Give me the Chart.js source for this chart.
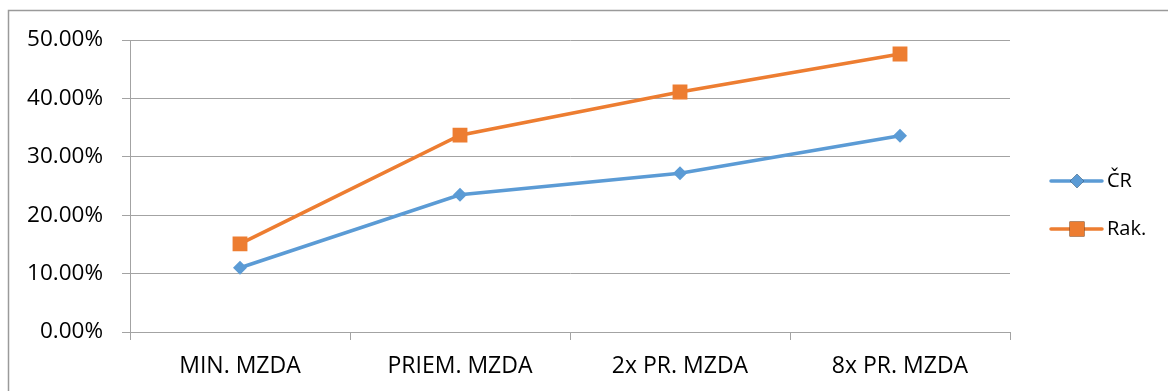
<!DOCTYPE html>
<html>
<head>
<meta charset="utf-8">
<script src="https://cdn.jsdelivr.net/npm/chart.js@4"></script>
<style>
  html, body { margin: 0; padding: 0; background: #fff; }
  #wrap { position: relative; width: 1168px; height: 391px; }
</style>
</head>
<body>
<div id="wrap"><canvas id="c" width="1168" height="391"></canvas></div>
<script>
const categories = ['MIN. MZDA', 'PRIEM. MZDA', '2x PR. MZDA', '8x PR. MZDA'];
const seriesNames = ['ČR', 'Rak.'];
const crValues = [11.0, 23.5, 27.2, 33.6];
const rakValues = [15.1, 33.7, 41.1, 47.6];
const yTicks = [0, 10, 20, 30, 40, 50];

const FONT = "'Open Sans', 'DejaVu Sans', sans-serif";
const GRID = '#a3a3a3';

const frame = {
  id: 'frame',
  beforeDraw(chart) {
    const ctx = chart.ctx;
    ctx.save();
    ctx.fillStyle = '#fff';
    ctx.fillRect(0, 0, chart.width, chart.height);
    ctx.strokeStyle = '#9a9a9a';
    ctx.lineWidth = 1.5;
    ctx.beginPath();
    ctx.moveTo(8.5, chart.height + 5);
    ctx.lineTo(8.5, 10.5);
    ctx.lineTo(chart.width + 5, 10.5);
    ctx.stroke();
    ctx.restore();
  }
};

const sideLegend = {
  id: 'sideLegend',
  afterDraw(chart) {
    const ctx = chart.ctx;
    ctx.save();
    chart.data.datasets.forEach((ds, i) => {
      const y = 181 + 48 * i;
      ctx.strokeStyle = ds.borderColor;
      ctx.lineWidth = 3.5;
      ctx.lineCap = 'round';
      ctx.beginPath();
      ctx.moveTo(1051, y);
      ctx.lineTo(1102, y);
      ctx.stroke();
      Chart.helpers.drawPoint(ctx, {
        pointStyle: ds.pointStyle,
        radius: ds.pointRadius,
        borderWidth: 0
      }, 1077, y);
      ctx.fillStyle = ds.borderColor;
      ctx.fill();
      ctx.fillStyle = '#000';
      ctx.font = '20px ' + FONT;
      ctx.textAlign = 'left';
      ctx.textBaseline = 'middle';
      ctx.fillText(ds.label, 1107, y);
    });
    ctx.restore();
  }
};

new Chart(document.getElementById('c'), {
  type: 'line',
  data: {
    labels: categories,
    datasets: [
      {
        label: seriesNames[0],
        data: crValues,
        borderColor: '#5B9BD5',
        backgroundColor: '#5B9BD5',
        borderWidth: 3.5,
        pointStyle: 'rectRot',
        pointRadius: 7,
        pointHoverRadius: 7,
        pointBorderWidth: 0,
        tension: 0
      },
      {
        label: seriesNames[1],
        data: rakValues,
        borderColor: '#ED7D31',
        backgroundColor: '#ED7D31',
        borderWidth: 3.5,
        pointStyle: 'rect',
        pointRadius: 10.5,
        pointHoverRadius: 10.5,
        pointBorderWidth: 0,
        tension: 0
      }
    ]
  },
  options: {
    responsive: false,
    animation: false,
    events: [],
    layout: { padding: { top: 40, right: 158, bottom: 0, left: 0 } },
    plugins: { legend: { display: false }, tooltip: { enabled: false } },
    scales: {
      x: {
        offset: true,
        grid: {
          offset: true,
          drawOnChartArea: false,
          drawTicks: true,
          tickLength: 8,
          color: GRID,
          lineWidth: 1
        },
        border: { display: true, color: GRID, width: 1 },
        ticks: {
          color: '#000',
          font: { family: FONT, size: 23 },
          padding: 13,
          maxRotation: 0,
          autoSkip: false
        },
        afterFit(scale) { scale.height = 59; }
      },
      y: {
        min: yTicks[0],
        max: yTicks[yTicks.length - 1],
        afterBuildTicks(scale) { scale.ticks = yTicks.map(v => ({ value: v })); },
        grid: {
          color: GRID,
          lineWidth: 1,
          drawTicks: true,
          tickLength: 8
        },
        border: { display: true, color: GRID, width: 1 },
        ticks: {
          color: '#000',
          font: { family: FONT, size: 22.5 },
          padding: 19,
          callback: v => Number(v).toFixed(2) + '%'
        },
        afterFit(scale) { scale.width = 130; }
      }
    }
  },
  plugins: [frame, sideLegend]
});
</script>
</body>
</html>
